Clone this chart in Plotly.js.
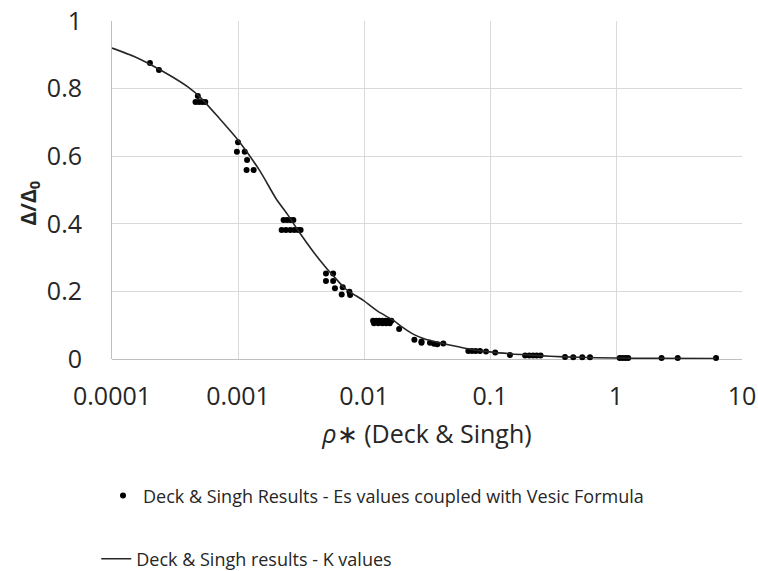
<!DOCTYPE html>
<html>
<head>
<meta charset="utf-8">
<script src="https://cdn.plot.ly/plotly-3.0.1.min.js"></script>
<style>html,body{margin:0;padding:0;background:#fff;}#chart{width:758px;height:571px;}</style>
</head>
<body>
<div id="chart"></div>
<script>
// Scatter: Deck & Singh Results - Es values coupled with Vesic Formula
const esRho = [
  0.000200, 0.000236,
  0.000480, 0.000460, 0.000490, 0.000520, 0.000550,
  0.00100, 0.00098, 0.00113, 0.00118, 0.00117, 0.00133,
  0.00230, 0.00245, 0.00260, 0.00275,
  0.00222, 0.00240, 0.00260, 0.00280, 0.00300, 0.00314,
  0.00499, 0.00569, 0.00499, 0.00569, 0.00588, 0.00678, 0.00665, 0.00766, 0.00776,
  0.0118, 0.0125, 0.0132, 0.0140, 0.0148, 0.0157, 0.0165,
  0.0120, 0.0130, 0.0140, 0.0150, 0.0160,
  0.0190, 0.0251, 0.0286, 0.0286, 0.0334, 0.0360, 0.0382, 0.0426,
  0.0673, 0.0720, 0.0770, 0.0833, 0.0930, 0.110, 0.144,
  0.190, 0.205, 0.220, 0.235, 0.252,
  0.394, 0.458, 0.540, 0.622,
  1.07, 1.13, 1.19, 1.25,
  2.30, 3.09, 6.22
];
const esRatio = [
  0.876, 0.855,
  0.778, 0.760, 0.760, 0.760, 0.760,
  0.641, 0.613, 0.613, 0.589, 0.559, 0.559,
  0.411, 0.411, 0.411, 0.411,
  0.382, 0.382, 0.382, 0.382, 0.382, 0.382,
  0.253, 0.253, 0.231, 0.231, 0.209, 0.212, 0.191, 0.199, 0.189,
  0.113, 0.113, 0.113, 0.113, 0.113, 0.113, 0.113,
  0.106, 0.106, 0.106, 0.106, 0.106,
  0.089, 0.057, 0.052, 0.048, 0.048, 0.045, 0.044, 0.046,
  0.024, 0.024, 0.024, 0.024, 0.022, 0.019, 0.012,
  0.010, 0.010, 0.010, 0.010, 0.010,
  0.006, 0.0055, 0.005, 0.005,
  0.003, 0.003, 0.003, 0.003,
  0.003, 0.003, 0.003
];
// Line: Deck & Singh results - K values
const kRho = [0.0001, 0.00015, 0.0002, 0.0003, 0.0004, 0.0005, 0.0007, 0.001, 0.0015, 0.002, 0.0025, 0.003, 0.004, 0.005, 0.006, 0.007, 0.008, 0.01, 0.013, 0.017, 0.02, 0.025, 0.03, 0.04, 0.05, 0.07, 0.1, 0.15, 0.2, 0.3, 0.5, 1, 2, 6.2];
const kRatio = [0.920, 0.895, 0.872, 0.835, 0.805, 0.775, 0.715, 0.648, 0.555, 0.475, 0.425, 0.380, 0.315, 0.270, 0.237, 0.210, 0.195, 0.172, 0.140, 0.115, 0.095, 0.072, 0.060, 0.048, 0.040, 0.029, 0.021, 0.015, 0.012, 0.008, 0.005, 0.003, 0.002, 0.0015];

const xTickVals = [0.0001, 0.001, 0.01, 0.1, 1, 10];
const xTickText = ["0.0001", "0.001", "0.01", "0.1", "1", "10"];
const yTickVals = [0, 0.2, 0.4, 0.6, 0.8, 1];
const yTickText = ["0", "0.2", "0.4", "0.6", "0.8", "1"];

const seriesNames = ["Deck & Singh Results - Es values coupled with Vesic Formula", "Deck & Singh results - K values"];
const xTitle = "<i>ρ</i>∗ (Deck & Singh)";
const yTitle = "<b>Δ/Δ<sub>0</sub></b>";

const FONT = "Open Sans, Lato, sans-serif";
const TXT = "#262626";

const traces = [
  {
    type: "scatter", mode: "markers", name: seriesNames[0],
    x: esRho, y: esRatio,
    marker: {color: "#000000", size: 6},
    legend: "legend", cliponaxis: false
  },
  {
    type: "scatter", mode: "lines", name: seriesNames[1],
    x: kRho, y: kRatio,
    line: {color: "#262626", width: 1.6, shape: "spline", smoothing: 0.6},
    legend: "legend2"
  }
];

const layout = {
  width: 758, height: 571,
  margin: {l: 112, r: 16, t: 21, b: 212, autoexpand: false},
  paper_bgcolor: "#ffffff", plot_bgcolor: "#ffffff",
  font: {family: FONT, color: TXT, size: 25},
  showlegend: true,
  xaxis: {
    type: "log", range: [-4, 1], automargin: false,
    tickvals: xTickVals, ticktext: xTickText,
    tickfont: {family: FONT, size: 25, color: TXT},
    showgrid: true, gridcolor: "#d9d9d9", gridwidth: 1,
    showline: false, zeroline: false,
    ticks: "", ticklabelstandoff: 20,
    title: {text: xTitle, font: {family: FONT, size: 25, color: TXT}, standoff: 14}
  },
  yaxis: {
    range: [0, 1], automargin: false,
    tickvals: yTickVals, ticktext: yTickText,
    tickfont: {family: FONT, size: 25, color: TXT},
    showgrid: true, gridcolor: "#d9d9d9", gridwidth: 1,
    showline: true, linecolor: "#bfbfbf", linewidth: 1,
    zeroline: true, zerolinecolor: "#bfbfbf", zerolinewidth: 1,
    ticks: "", ticklabelstandoff: 24
  },
  annotations: [
    {
      text: yTitle, xref: "paper", yref: "paper",
      x: -0.1333, y: 0.46, xanchor: "center", yanchor: "middle",
      textangle: -90, showarrow: false,
      font: {family: FONT, size: 21, color: TXT}
    }
  ],
  legend: {
    x: -0.0143, xanchor: "left", y: -0.405, yanchor: "middle",
    font: {family: FONT, size: 18, color: TXT},
    bgcolor: "rgba(0,0,0,0)", borderwidth: 0
  },
  legend2: {
    x: -0.025, xanchor: "left", y: -0.592, yanchor: "middle",
    font: {family: FONT, size: 18, color: TXT},
    bgcolor: "rgba(0,0,0,0)", borderwidth: 0
  }
};

Plotly.newPlot("chart", traces, layout, {displayModeBar: false, staticPlot: true});
</script>
</body>
</html>
